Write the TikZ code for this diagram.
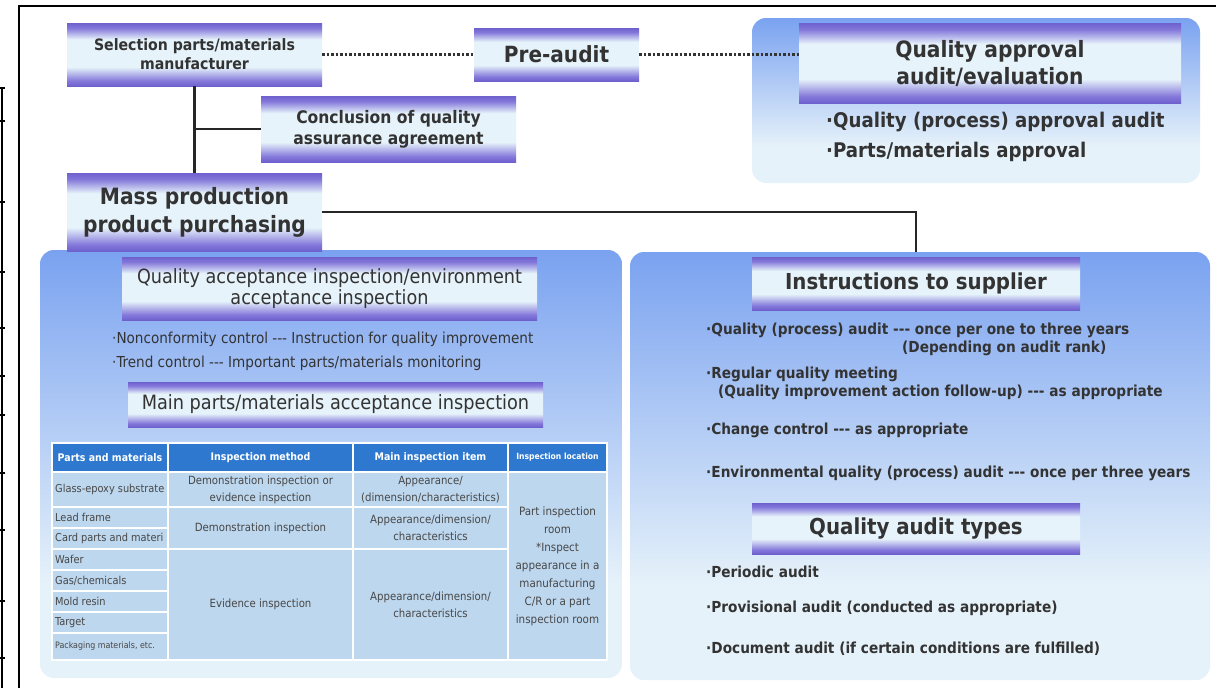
\documentclass[tikz,border=0pt]{standalone}
\usepackage{fontspec}
\setmainfont{DejaVu Sans Condensed}[Ligatures=TeXOff]
\usepackage{tikz}
\usetikzlibrary{positioning}
\definecolor{hdrdeep}{HTML}{6E61CE}
\definecolor{hdrpurple}{HTML}{8377DA}
\definecolor{hdrlight}{HTML}{E6F3FA}
\definecolor{panelblue}{HTML}{7AA2F0}
\definecolor{panellight}{HTML}{E6F2FA}
\definecolor{cellblue}{HTML}{BDD7EE}
\definecolor{headblue}{HTML}{2E79CF}
\definecolor{inkgray}{HTML}{333333}
\pgfdeclareverticalshading{hdrband}{100bp}{color(0bp)=(hdrdeep); color(25bp)=(hdrdeep); color(29bp)=(hdrpurple); color(40bp)=(hdrlight); color(62bp)=(hdrlight); color(71bp)=(hdrpurple); color(75bp)=(hdrdeep); color(100bp)=(hdrdeep)}
\pgfdeclareverticalshading{panelfade}{100bp}{color(0bp)=(panellight); color(36bp)=(panellight); color(75bp)=(panelblue); color(100bp)=(panelblue)}
\newcommand{\fsz}[2]{\fontsize{#1}{#2}\selectfont}

\begin{document}
\begin{tikzpicture}[x=1pt,y=-1pt,
  hdrbox/.style={shading=hdrband,align=center,inner sep=0pt,text=inkgray},
  panel/.style={shading=panelfade,rounded corners=14pt,inner sep=0pt},
  link/.style={draw=black!85,line width=2.4pt},
  dots/.style={draw=black!80,line width=2.6pt,dash pattern=on 2.6pt off 1.9pt},
  bullet/.style={anchor=west,inner sep=0pt,text=inkgray},
  rbullet/.style={bullet,font=\bfseries\fsz{15.2}{18}},
  cell/.style={fill=cellblue,draw=white,line width=1.6pt},
  headcell/.style={fill=headblue,draw=white,line width=1.6pt},
  celltext/.style={align=center,inner sep=0pt,text=black!72,font=\fsz{11.3}{17}},
  headtext/.style={inner sep=0pt,text=white,font=\bfseries\fsz{10.5}{13}}]
\useasboundingbox (0,0) rectangle (1216,688);
\fill[white] (0,0) rectangle (1216,688);

\draw[black,line width=1.3pt] (1216,6) -- (19,6) -- (19,688);
\draw[black,line width=1.8pt] (2,88) -- (2,688);
\foreach \ty in {88,121,202,272,328,376,415,473,530,601,658}
  \draw[black,line width=1.2pt] (0,\ty) -- (5,\ty);

\node[panel,minimum width=448pt,minimum height=165pt] (qapanel) at (976,100.5) {};
\node[panel,minimum width=582pt,minimum height=428pt] (lpanel) at (331,464) {};
\node[panel,minimum width=580pt,minimum height=428pt] (rpanel) at (920,466) {};

\node[hdrbox,minimum width=255pt,minimum height=63pt,font=\bfseries\fsz{15.7}{19}] (sel) at (194.5,54.5) {Selection parts/materials\\manufacturer};
\node[hdrbox,minimum width=165pt,minimum height=53pt,font=\bfseries\fsz{22.3}{26}] (pre) at (556.5,54.5) {Pre-audit};
\node[hdrbox,minimum width=255pt,minimum height=66pt,font=\bfseries\fsz{17.3}{21}] (concl) at (388.5,129) {Conclusion of quality\\assurance agreement};
\node[hdrbox,minimum width=255pt,minimum height=78pt,font=\bfseries\fsz{22.5}{28}] (mass) at (194.5,212) {Mass production\\product purchasing};
\node[hdrbox,minimum width=382pt,minimum height=80pt,font=\bfseries\fsz{22.5}{27}] (qa) at (990,63) {Quality approval\\audit/evaluation};

\draw[link] (sel.south) -- (mass.north);
\draw[link] (sel.south |- concl.west) -- (concl.west);
\draw[dots] (sel.east) -- (pre.west);
\draw[dots] (pre.east) -- (pre.east -| qa.west);

\node[bullet,font=\bfseries\fsz{20.2}{23}] (qab1) at (826,122) {·Quality (process) approval audit};
\node[bullet,font=\bfseries\fsz{20.2}{23}] (qab2) at (826,152) {·Parts/materials approval};

\node[hdrbox,minimum width=415pt,minimum height=63pt,font=\fsz{19.6}{21}] (qai) at (329.5,288.5) {Quality acceptance inspection/environment\\acceptance inspection};
\node[bullet,font=\fsz{15.1}{17}] (lb1) at (112,339) {·Nonconformity control --- Instruction for quality improvement};
\node[bullet,font=\fsz{15.1}{17}] (lb2) at (112,363) {·Trend control --- Important parts/materials monitoring};
\node[hdrbox,minimum width=415pt,minimum height=45pt,font=\fsz{19.7}{21}] (mpi) at (335.5,404.5) {Main parts/materials acceptance inspection};

\foreach \xa/\xb/\lbl [count=\i] in {52/168/Parts and materials,168/353/Inspection method,353/508/Main inspection item} {
  \draw[headcell] (\xa,443) rectangle (\xb,472);
  \node[headtext] (th\i) at ({(\xa+\xb)/2},457.5) {\lbl};
}
\draw[headcell] (508,443) rectangle (607,472);
\node[headtext,font=\bfseries\fsz{8.5}{10}] (th4) at (557.5,457.5) {Inspection location};

\foreach \ya/\yb/\lbl [count=\i] in {472/507/Glass-epoxy substrate,507/528/Lead frame,528/549/Card parts and materi,549/570/Wafer,570/591/{Gas/chemicals},591/612/Mold resin,612/633/Target} {
  \draw[cell] (52,\ya) rectangle (168,\yb);
  \node[celltext,anchor=west,font=\fsz{10.9}{13}] (pm\i) at (55,{(\ya+\yb)/2}) {\lbl};
}
\draw[cell] (52,633) rectangle (168,660);
\node[celltext,anchor=west,font=\fsz{8.8}{10}] (pm8) at (55,646.5) {Packaging materials, etc.};

\draw[cell] (168,472) rectangle (353,507);
\node[celltext] (im1) at (260.5,489.5) {Demonstration inspection or\\evidence inspection};
\draw[cell] (168,507) rectangle (353,549);
\node[celltext] (im2) at (260.5,528) {Demonstration inspection};
\draw[cell] (168,549) rectangle (353,660);
\node[celltext] (im3) at (260.5,604.5) {Evidence inspection};

\draw[cell] (353,472) rectangle (508,507);
\node[celltext] (mi1) at (430.5,489.5) {Appearance/\\(dimension/characteristics)};
\draw[cell] (353,507) rectangle (508,549);
\node[celltext] (mi2) at (430.5,528) {Appearance/dimension/\\characteristics};
\draw[cell] (353,549) rectangle (508,660);
\node[celltext] (mi3) at (430.5,604.5) {Appearance/dimension/\\characteristics};

\draw[cell] (508,472) rectangle (607,660);
\node[celltext,font=\fsz{11.5}{18}] (loc) at (557.5,566) {Part inspection\\room\\*Inspect\\appearance in a\\manufacturing\\C/R or a part\\inspection room};

\node[hdrbox,minimum width=328pt,minimum height=53pt,font=\bfseries\fsz{22}{26}] (instr) at (916,283.5) {Instructions to supplier};
\draw[link] (mass.east) -| (instr.north |- rpanel.north);

\node[rbullet] (rb1) at (706,330) {·Quality (process) audit --- once per one to three years};
\node[rbullet] (rb1b) at (902,348) {(Depending on audit rank)};
\node[rbullet] (rb2) at (706,374) {·Regular quality meeting};
\node[rbullet] (rb2b) at (718,392) {(Quality improvement action follow-up) --- as appropriate};
\node[rbullet] (rb3) at (706,430) {·Change control --- as appropriate};
\node[rbullet] (rb4) at (706,473) {·Environmental quality (process) audit --- once per three years};

\node[hdrbox,minimum width=328pt,minimum height=51pt,font=\bfseries\fsz{22}{26}] (qat) at (916,528.5) {Quality audit types};
\node[rbullet] (qt1) at (706,572) {·Periodic audit};
\node[rbullet] (qt2) at (706,608) {·Provisional audit (conducted as appropriate)};
\node[rbullet] (qt3) at (706,649) {·Document audit (if certain conditions are fulfilled)};
\end{tikzpicture}
\end{document}
